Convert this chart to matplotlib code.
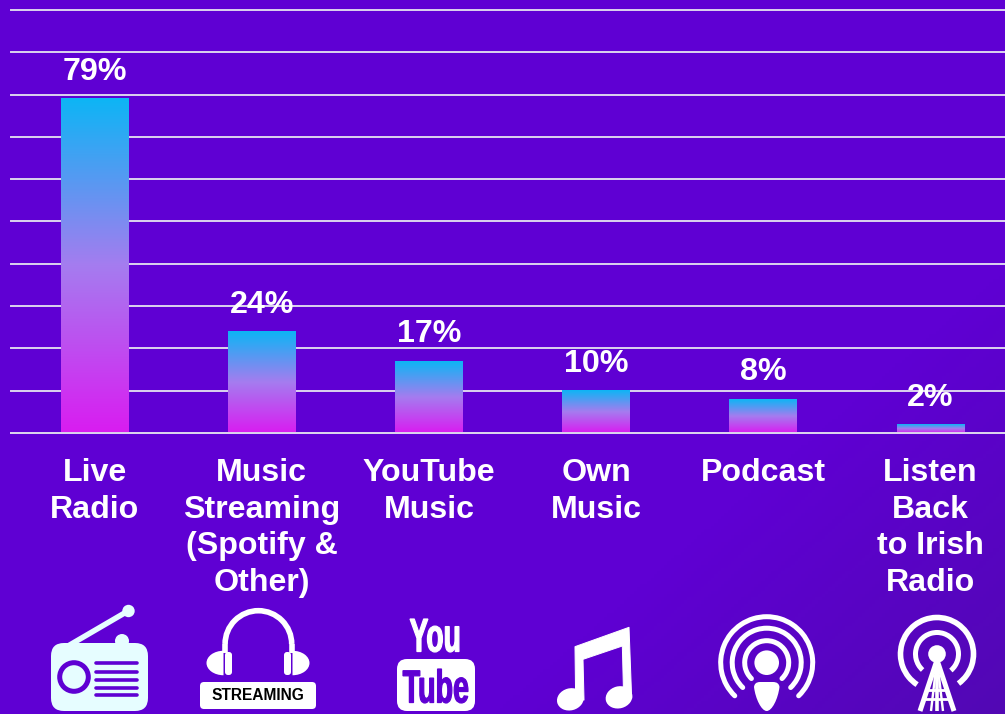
import numpy as np
import matplotlib
matplotlib.use("Agg")
import matplotlib.pyplot as plt
from matplotlib.colors import LinearSegmentedColormap
from matplotlib.patches import Circle, Ellipse, FancyBboxPatch, Polygon, Arc, PathPatch, Wedge
from matplotlib.path import Path
from matplotlib.textpath import TextPath
from matplotlib.font_manager import FontProperties
from matplotlib.transforms import Affine2D

plt.rcParams["font.family"] = ["Liberation Sans", "DejaVu Sans"]

categories = ["Live\nRadio", "Music\nStreaming\n(Spotify &\nOther)", "YouTube\nMusic",
              "Own\nMusic", "Podcast", "Listen\nBack\nto Irish\nRadio"]
values = [79, 24, 17, 10, 8, 2]
value_labels = ["79%", "24%", "17%", "10%", "8%", "2%"]
grid_ticks = [0, 10, 20, 30, 40, 50, 60, 70, 80, 90, 100]

PURPLE = "#5F00D3"
DARK_PURPLE = "#5208B4"
ICE = "#E6FDFF"
GRID = "#DCD4EE"
WIDTH, HEIGHT = 1005, 714

fig = plt.figure(figsize=(WIDTH / 100, HEIGHT / 100), dpi=100)

# Page background: flat purple that darkens towards the lower right corner
bg = fig.add_axes([0, 0, 1, 1], zorder=0)
bg.axis("off")
gx, gy = np.meshgrid(np.linspace(0, 1, 300), np.linspace(0, 1, 220))
amount = np.clip((gx * 0.55 + gy * 0.45 - 0.72) / 0.28, 0, 1)
bg_cmap = LinearSegmentedColormap.from_list("page", [PURPLE, DARK_PURPLE])
bg.imshow(amount, cmap=bg_cmap, vmin=0, vmax=1, extent=(0, 1, 0, 1), origin="upper", aspect="auto")

# Chart axes run slightly past the right page edge
ax = fig.add_axes([11.0 / WIDTH, (HEIGHT - 433) / HEIGHT, 1003 / WIDTH, 423 / HEIGHT], zorder=1)
ax.patch.set_alpha(0)
positions = np.arange(len(values))
bar_width = 0.404
ax.set_xlim(-0.5, len(values) - 0.5)
ax.set_ylim(0, 100)
ax.set_autoscale_on(False)

ax.set_yticks(grid_ticks)
ax.set_yticklabels([])
ax.grid(axis="y", color=GRID, linewidth=1.4, zorder=1)
for line in ax.get_ygridlines():
    line.set_clip_on(False)
ax.set_axisbelow(True)
ax.axhline(0, color=GRID, linewidth=1.4, zorder=5, clip_on=False)
for spine in ax.spines.values():
    spine.set_visible(False)
ax.tick_params(axis="y", length=0)
ax.tick_params(axis="x", length=0, pad=18)
ax.set_xticks(positions)
ax.set_xticklabels(categories, color="white", fontsize=23.1, fontweight="bold", linespacing=1.287,
                   va="top", ha="center")

# Each bar carries its own vertical blue-to-magenta gradient
bar_cmap = LinearSegmentedColormap.from_list("bar", ["#0DB5F5", "#A57CEF", "#D91CF1"])
ramp = np.linspace(0, 1, 256).reshape(-1, 1)
for pos, val, label in zip(positions, values, value_labels):
    ax.imshow(ramp, cmap=bar_cmap, aspect="auto", origin="upper", zorder=2,
              extent=(pos - bar_width / 2, pos + bar_width / 2, 0, val))
    ax.annotate(label, (pos, val), xytext=(0, 19.2), textcoords="offset points", ha="center", va="center",
                color="white", fontsize=23.2, fontweight="bold", zorder=4)

# Icon row, laid out in page pixels
ic = fig.add_axes([0, 0, 1, 1], zorder=2)
ic.set_xlim(0, WIDTH)
ic.set_ylim(HEIGHT, 0)
ic.axis("off")
ic.patch.set_alpha(0)
PX = 0.72  # points per pixel


def rounded(x0, y0, x1, y1, r, color):
    ic.add_patch(FancyBboxPatch((x0 + r, y0 + r), x1 - x0 - 2 * r, y1 - y0 - 2 * r,
                                boxstyle=f"round,pad={r},rounding_size={r}", fc=color, ec="none"))


# Radio
ic.plot([68, 128], [646, 611], color=ICE, lw=5.5 * PX, solid_capstyle="round")
ic.add_patch(Circle((128.5, 611), 6.2, fc=ICE, ec="none"))
ic.add_patch(Circle((122, 641), 7, fc=ICE, ec="none"))
rounded(51, 643, 148, 711, 13, ICE)
ic.add_patch(Circle((74, 677), 14.3, fc=ICE, ec=PURPLE, lw=5 * PX))
for y in [663, 672, 680, 688, 695]:
    ic.plot([96, 137], [y, y], color=PURPLE, lw=3.6 * PX, solid_capstyle="round")

# Headphones with caption plate
ic.add_patch(Arc((258.4, 644), 66.6, 66.6, theta1=180, theta2=360, ec="white", lw=5.6 * PX))
ic.plot([225, 225], [644, 653], color="white", lw=5.6 * PX, solid_capstyle="butt")
ic.plot([291.7, 291.7], [644, 653], color="white", lw=5.6 * PX, solid_capstyle="butt")
ic.add_patch(Wedge((223.5, 663), 17, 90, 270, fc="white", ec="none",
                   transform=Affine2D().translate(-223.5, -663).scale(1, 0.72).translate(223.5, 663) + ic.transData))
ic.add_patch(Wedge((292.5, 663), 17, -90, 90, fc="white", ec="none",
                   transform=Affine2D().translate(-292.5, -663).scale(1, 0.72).translate(292.5, 663) + ic.transData))
rounded(225, 652, 232, 675, 3, "white")
rounded(284, 652, 291, 675, 3, "white")
rounded(200, 682, 316, 709, 4, "white")
ic.text(258, 695.5, "STREAMING", color="black", fontsize=11.2, fontweight="bold", ha="center", va="center")

# YouTube logo: squeezed glyph outlines fitted to the logo boxes
logo_font = FontProperties(family="Liberation Sans", weight="bold")


def fitted_word(word, x0, y0, x1, y1, color):
    path = TextPath((0, 0), word, size=40, prop=logo_font)
    box = path.get_extents()
    tf = (Affine2D().translate(-box.x0, -box.y0)
          .scale((x1 - x0) / box.width, -(y1 - y0) / box.height)
          .translate(x0, y1))
    ic.add_patch(PathPatch(tf.transform_path(path), fc=color, ec=color, lw=1.2 * PX))


fitted_word("You", 410, 619, 459, 652, "white")
rounded(397, 659, 475, 711, 10, "white")
fitted_word("Tube", 403, 669, 468, 703, PURPLE)


# Music note
def note_pt(zx, zy):
    return 505 + zx / 3, 590 + zy / 3


note_outline = [(210, 170), (372, 112), (380, 325), (356, 325), (352, 168), (234, 208), (237, 330), (212, 330)]
ic.add_patch(Polygon([note_pt(*p) for p in note_outline], closed=True, fc="white", ec="white",
                     lw=1 * PX, joinstyle="round"))
for zx, zy in [(196, 328), (342, 322)]:
    ic.add_patch(Ellipse(note_pt(zx, zy), 27, 22, angle=-15, fc="white", ec="none"))

# Podcast symbol; y runs downward here, so the open side of the rings sits around 90 degrees
pod = (766.7, 662.7)
for radius in [46, 34.5, 22]:
    ic.add_patch(Arc(pod, 2 * radius, 2 * radius, theta1=134, theta2=406,
                     ec="white", lw=5 * PX, capstyle="round"))
ic.add_patch(Circle(pod, 12.3, fc="white", ec="none"))
body = Path([(754, 687), (754.5, 682), (760, 682), (773, 682), (779, 682), (779.5, 687),
             (778, 699), (772, 711), (766.7, 711), (761.5, 711), (755.5, 699), (754, 687)],
            [Path.MOVETO, Path.CURVE3, Path.CURVE3, Path.LINETO, Path.CURVE3, Path.CURVE3,
             Path.CURVE4, Path.CURVE4, Path.CURVE4, Path.CURVE4, Path.CURVE4, Path.CURVE4])
ic.add_patch(PathPatch(body, fc="white", ec="none"))

# Broadcast tower
tower = (937, 654)
for radius, stroke, start, stop in [(36.5, 5.6, 123, 414), (21.5, 5, 132, 410)]:
    ic.add_patch(Arc(tower, 2 * radius, 2 * radius, theta1=start, theta2=stop,
                     ec="white", lw=stroke * PX, capstyle="butt"))
ic.add_patch(Circle(tower, 8.8, fc="white", ec="none"))
peak_y, foot_y = 660, 711
for foot_x, stroke in [(920, 5), (954, 5), (931, 2.4), (943, 2.4)]:
    ic.plot([tower[0], foot_x], [peak_y, foot_y], color="white", lw=stroke * PX, solid_capstyle="butt")
ic.plot([tower[0], tower[0]], [peak_y, foot_y], color="white", lw=3.6 * PX, solid_capstyle="butt")
for y, half in [(690, 10), (699, 13)]:
    ic.plot([tower[0] - half, tower[0] + half], [y, y], color="white", lw=2.8 * PX, solid_capstyle="butt")

fig.savefig("out.png", dpi=100)
